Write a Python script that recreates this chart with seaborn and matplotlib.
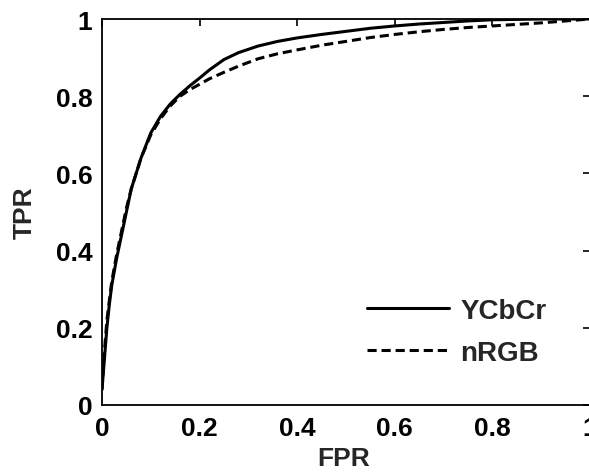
import matplotlib
matplotlib.use("Agg")
import matplotlib.pyplot as plt
import seaborn as sns
import pandas as pd

ycbcr_fpr = [0, 0.005, 0.01, 0.015, 0.02, 0.03, 0.04, 0.05, 0.06, 0.07, 0.08, 0.10, 0.12, 0.14,
             0.16, 0.18, 0.20, 0.22, 0.25, 0.28, 0.32, 0.36, 0.40, 0.45, 0.50, 0.55, 0.60, 0.65,
             0.70, 0.75, 0.80, 0.90, 1.0]
ycbcr_tpr = [0.04, 0.12, 0.20, 0.26, 0.31, 0.38, 0.44, 0.50, 0.56, 0.60, 0.64, 0.705, 0.748, 0.78,
             0.805, 0.827, 0.847, 0.868, 0.895, 0.913, 0.930, 0.942, 0.951, 0.96, 0.968, 0.976,
             0.982, 0.987, 0.991, 0.995, 0.998, 1.0, 1.0]

nrgb_fpr = [0, 0.005, 0.01, 0.02, 0.03, 0.04, 0.05, 0.06, 0.07, 0.08, 0.10, 0.12, 0.14, 0.16,
            0.18, 0.20, 0.22, 0.25, 0.28, 0.32, 0.36, 0.40, 0.45, 0.50, 0.55, 0.60, 0.65, 0.70,
            0.75, 0.80, 0.85, 0.90, 0.95, 1.0]
nrgb_tpr = [0.04, 0.14, 0.22, 0.32, 0.39, 0.45, 0.51, 0.56, 0.60, 0.64, 0.70, 0.742, 0.775, 0.80,
            0.817, 0.831, 0.845, 0.862, 0.878, 0.897, 0.91, 0.92, 0.932, 0.942, 0.952, 0.96,
            0.967, 0.973, 0.978, 0.982, 0.986, 0.99, 0.995, 1.0]

tick_values = [0, 0.2, 0.4, 0.6, 0.8, 1]
tick_labels = ["0", "0.2", "0.4", "0.6", "0.8", "1"]

sns.set_style("white")
plt.rcParams['font.family'] = ['Liberation Sans', 'DejaVu Sans']
plt.rcParams['font.weight'] = 'bold'

fig = plt.figure(figsize=(5.89, 4.77), dpi=100)
ax = fig.add_axes([102/589, 71/477, 488/589, 386/477])

df1 = pd.DataFrame({"FPR": ycbcr_fpr, "TPR": ycbcr_tpr})
df2 = pd.DataFrame({"FPR": nrgb_fpr, "TPR": nrgb_tpr})
sns.lineplot(data=df1, x="FPR", y="TPR", ax=ax, color="black", lw=2.2,
             estimator=None, sort=False, label="YCbCr")
sns.lineplot(data=df2, x="FPR", y="TPR", ax=ax, color="black", lw=2.2,
             estimator=None, sort=False, label="nRGB", linestyle=(0, (3, 1.6)))

ax.set_xlim(0, 1)
ax.set_ylim(0, 1)
ax.set_xticks(tick_values)
ax.set_xticklabels(tick_labels)
ax.set_yticks(tick_values)
ax.set_yticklabels(tick_labels)
for s in ax.spines.values():
    s.set_color("black")
    s.set_linewidth(1.3)
ax.tick_params(direction="in", length=5, width=1.2, top=True, right=True,
               labelsize=19, colors="black")
ax.tick_params(axis="x", pad=8)
ax.tick_params(axis="y", pad=7)
for lab in ax.get_xticklabels() + ax.get_yticklabels():
    lab.set_fontweight("bold")
ax.set_xlabel("FPR", fontsize=19, fontweight="bold")
ax.set_ylabel("TPR", fontsize=19, fontweight="bold")
ax.xaxis.set_label_coords(0.496, -0.106)
ax.yaxis.set_label_coords(-0.133, 0.5)

leg = ax.legend(loc="center left", bbox_to_anchor=((367 - 102) / 488, (406 - 333) / 386),
                frameon=False, handlelength=2.95, handletextpad=0.4, labelspacing=0.58,
                borderpad=0, borderaxespad=0, prop={"weight": "bold", "size": 20})

fig.savefig("out.png", dpi=100)
